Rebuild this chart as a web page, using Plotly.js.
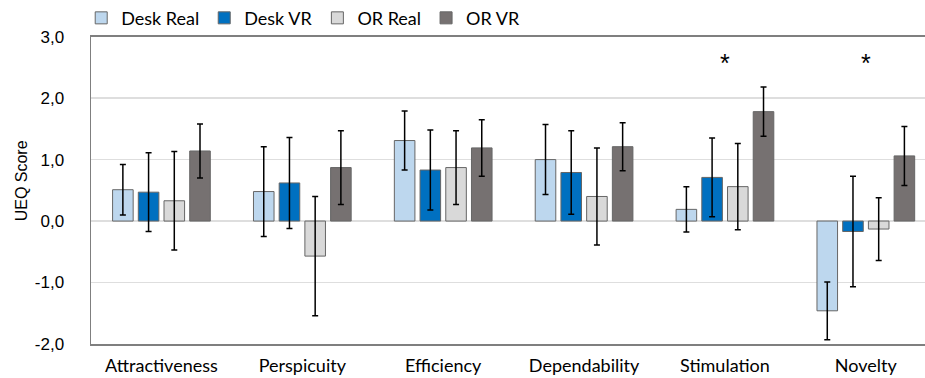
<!DOCTYPE html>
<html>
<head>
<meta charset="utf-8">
<script src="https://cdn.plot.ly/plotly-3.0.1.min.js"></script>
<style>html,body{margin:0;padding:0;background:#fff;}#chart{width:925px;height:378px;}</style>
</head>
<body>
<div id="chart"></div>
<script>
const categories = ["Attractiveness", "Perspicuity", "Efficiency", "Dependability", "Stimulation", "Novelty"];
const seriesNames = ["Desk Real", "Desk VR", "OR Real", "OR VR"];
const deskReal = [0.51, 0.48, 1.31, 1.00, 0.19, -1.46];
const deskRealErr = [0.41, 0.73, 0.48, 0.57, 0.37, 0.47];
const deskVR = [0.47, 0.62, 0.83, 0.79, 0.71, -0.17];
const deskVRErr = [0.64, 0.74, 0.65, 0.68, 0.64, 0.90];
const orReal = [0.33, -0.57, 0.87, 0.40, 0.56, -0.13];
const orRealErr = [0.80, 0.97, 0.60, 0.79, 0.70, 0.51];
const orVR = [1.14, 0.87, 1.19, 1.21, 1.78, 1.06];
const orVRErr = [0.44, 0.60, 0.46, 0.39, 0.40, 0.48];
const significant = ["Stimulation", "Novelty"];
const markerText = "*";
const markerLevel = 2.57;
const yTickValues = [-2, -1, 0, 1, 2, 3];
const yTickLabels = ["-2,0", "-1,0", "0,0", "1,0", "2,0", "3,0"];
const yTitle = "UEQ Score";

const values = [deskReal, deskVR, orReal, orVR];
const errors = [deskRealErr, deskVRErr, orRealErr, orVRErr];
const colors = ["#bdd7ee", "#0070c0", "#d9d9d9", "#767171"];

const traces = seriesNames.map((name, i) => ({
  type: "bar",
  name: name,
  x: categories,
  y: values[i],
  marker: {color: colors[i], line: {color: "#666666", width: 1}},
  error_y: {type: "data", array: errors[i], visible: true, color: "#000000", thickness: 1.5, width: 3}
}));

const annotations = significant.map(c => ({
  x: c, y: markerLevel, xref: "x", yref: "y",
  text: markerText, showarrow: false,
  font: {family: "Liberation Sans, Arial, sans-serif", size: 25, color: "#000"},
  yanchor: "middle"
}));
annotations.push({
  xref: "paper", yref: "paper", x: 0, y: 0.5, xshift: -70, yshift: 9,
  text: yTitle, textangle: -90, showarrow: false,
  xanchor: "center", yanchor: "middle",
  font: {family: "Liberation Sans, Arial, sans-serif", size: 16, color: "#000"}
});

const layout = {
  width: 925, height: 378,
  margin: {l: 90.5, r: 0, t: 36, b: 34},
  paper_bgcolor: "#ffffff", plot_bgcolor: "#ffffff",
  barmode: "group", bargap: 0.27, bargroupgap: 0.2,
  showlegend: true,
  legend: {
    orientation: "h", xref: "container", yref: "container",
    x: 0.0878, y: 0.952, xanchor: "left", yanchor: "middle",
    bgcolor: "rgba(0,0,0,0)",
    font: {family: "Lato, Noto Sans, sans-serif", size: 18, color: "#000"},
    traceorder: "normal", itemclick: false
  },
  xaxis: {
    type: "category", range: [-0.5, 5.42],
    showline: true, linecolor: "#7f7f7f", linewidth: 1.5, mirror: true,
    ticks: "", showgrid: false,
    tickfont: {family: "Lato, Noto Sans, sans-serif", size: 18, color: "#000"},
    ticklabelstandoff: 5
  },
  yaxis: {
    range: [-2, 3], tickvals: yTickValues, ticktext: yTickLabels,
    showline: true, linecolor: "#7f7f7f", linewidth: 1.5, mirror: true,
    showgrid: true, gridcolor: "#dedede", gridwidth: 1.5,
    zeroline: true, zerolinecolor: "#dedede", zerolinewidth: 1.5,
    ticks: "",
    tickfont: {family: "Liberation Sans, Arial, sans-serif", size: 17, color: "#000"},
    ticklabelstandoff: 22
  },
  annotations: annotations
};

Plotly.newPlot("chart", traces, layout, {displayModeBar: false, staticPlot: true});
</script>
</body>
</html>
